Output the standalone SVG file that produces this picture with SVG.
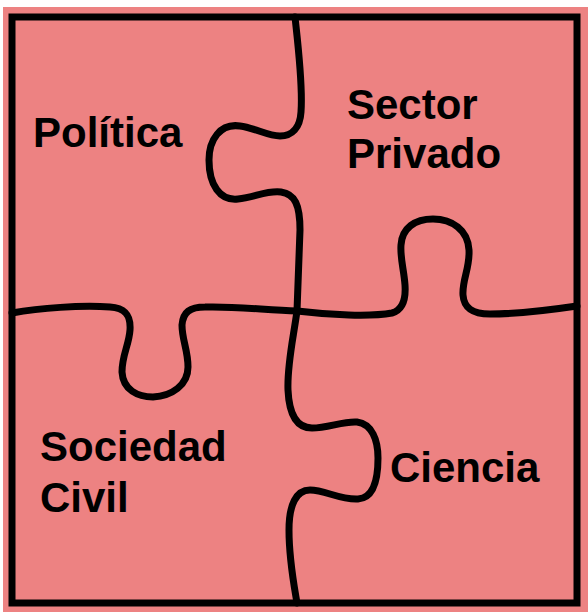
<svg xmlns="http://www.w3.org/2000/svg" width="588" height="612" viewBox="0 0 588 612">
<style>
.line{fill:none;stroke:#000;stroke-width:7;stroke-linecap:round;stroke-linejoin:round}
.lbl{font-family:"Liberation Sans",Arial,sans-serif;font-weight:bold;font-size:42px;fill:#000}
</style>
<rect x="0" y="0" width="588" height="612" fill="#ffffff"/>
<rect x="3" y="7" width="585" height="605" fill="#ED8282"/>
<g id="connectors">
<rect class="line" x="12" y="17" width="565" height="586" style="stroke-linejoin:miter"/>
<path class="line" d="M295,17 C298,45 303,85 301,112 C300,128 292,136 280,136 C268,136 255,128 240,126 C220,123 209,140 209,160 C209,185 220,201 238,199 C255,197 268,190 281,192 C295,194 300,205 300,230 L297,311"/>
<path class="line" d="M12,313 C40,308 80,305 110,307 C125,308 131,315 130,330 C129,345 122,355 122,372 C123,390 138,397 153,397 C172,396 188,385 188,367 C188,350 182,340 182,325 C183,312 190,307 205,307 C235,306 265,310 297,311"/>
<path class="line" d="M297,311 C330,315 370,317 392,313 C403,310 406,300 405,285 C404,270 400,258 401,245 C402,228 415,219 433,219 C452,219 468,230 469,250 C470,268 462,280 463,295 C464,308 472,314 490,314 C520,314 550,310 577,306"/>
<path class="line" d="M297,311 C293,340 287,365 288,390 C289,412 295,428 312,428 C328,428 343,421 357,422 C372,424 378,440 378,458 C378,478 374,498 358,499 C340,500 325,490 310,490 C296,490 289,505 289,530 C289,560 294,585 297,603"/>
</g>
<g id="politica"><text class="lbl" x="33" y="147">Política</text></g>
<g id="sector-privado"><text class="lbl" x="347" y="119">Sector</text><text class="lbl" x="347" y="168">Privado</text></g>
<g id="sociedad-civil"><text class="lbl" x="40" y="461">Sociedad</text><text class="lbl" x="40" y="512">Civil</text></g>
<g id="ciencia"><text class="lbl" x="390" y="482">Ciencia</text></g>
</svg>
